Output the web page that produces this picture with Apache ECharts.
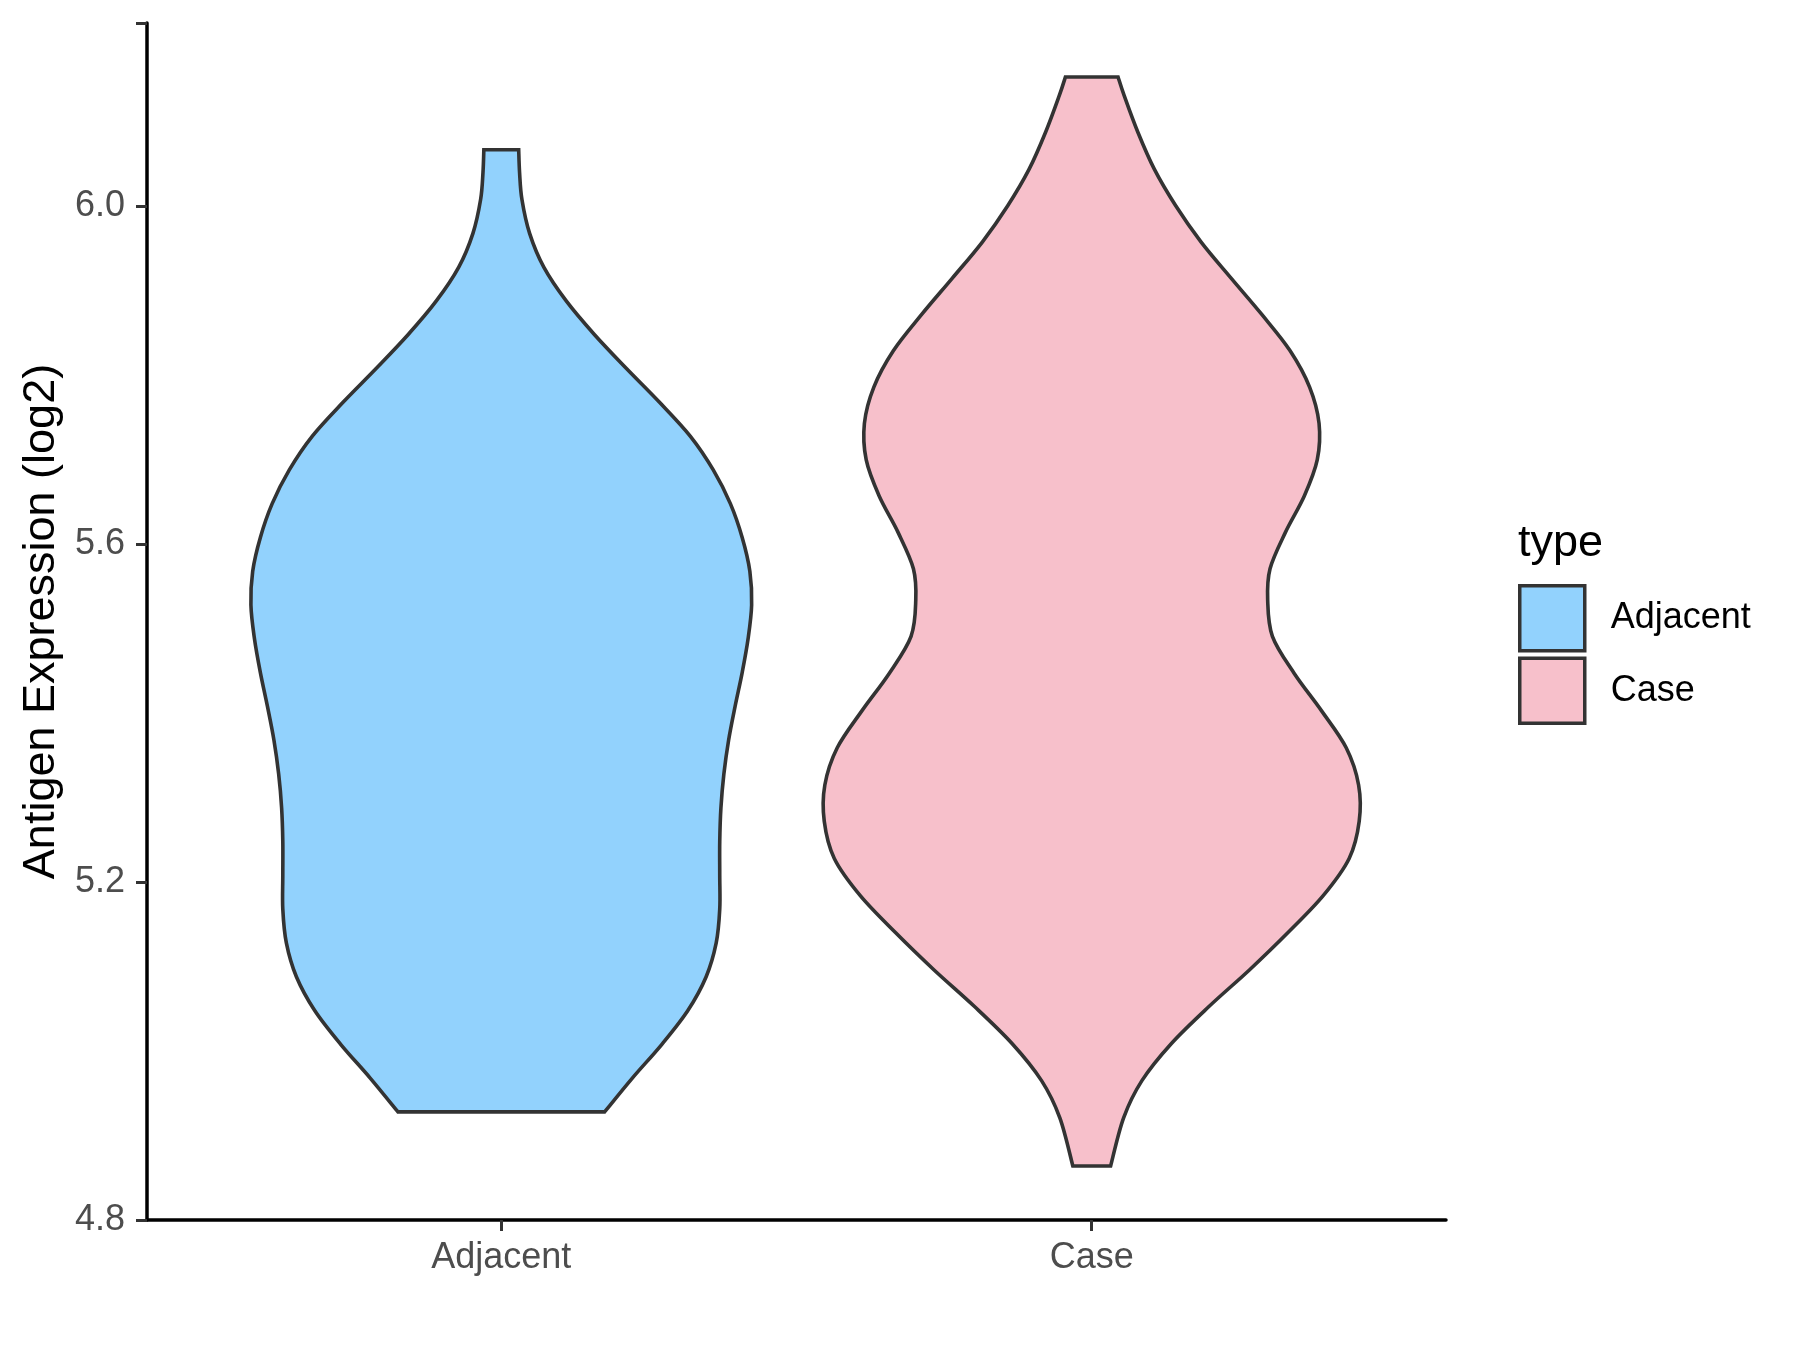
<!DOCTYPE html>
<html>
<head>
<meta charset="utf-8">
<script src="https://cdn.jsdelivr.net/npm/echarts@6/dist/echarts.min.js"></script>
<style>
html,body{margin:0;padding:0;background:#fff;}
#chart{width:1800px;height:1350px;}
</style>
</head>
<body>
<div id="chart"></div>
<script>
// Categories and y-axis ticks
const categories = ['Adjacent', 'Case'];
const yTicks = [4.8, 5.2, 5.6, 6.0];

// Violin outline: y values (log2 expression) and half-widths (in category units)
const adjY    = [4.928, 4.968, 5.008, 5.048, 5.088, 5.128, 5.168, 5.208, 5.248, 5.288, 5.328, 5.368, 5.408, 5.448, 5.488, 5.528, 5.568, 5.608, 5.648, 5.688, 5.728, 5.768, 5.808, 5.848, 5.888, 5.928, 5.968, 6.008, 6.040, 6.067];
const adjHalf = [0.175, 0.222, 0.272, 0.316, 0.347, 0.364, 0.370, 0.370, 0.370, 0.372, 0.377, 0.385, 0.396, 0.408, 0.418, 0.424, 0.421, 0.408, 0.388, 0.359, 0.320, 0.268, 0.212, 0.158, 0.110, 0.072, 0.048, 0.035, 0.031, 0.0295];

const caseY    = [4.864, 4.921, 4.965, 5.009, 5.053, 5.096, 5.140, 5.184, 5.228, 5.272, 5.315, 5.359, 5.403, 5.447, 5.491, 5.534, 5.571, 5.614, 5.657, 5.700, 5.743, 5.786, 5.829, 5.872, 5.915, 5.958, 6.001, 6.044, 6.088, 6.131, 6.153];
const caseHalf = [0.032, 0.054, 0.085, 0.135, 0.199, 0.267, 0.332, 0.392, 0.436, 0.453, 0.452, 0.431, 0.389, 0.343, 0.306, 0.298, 0.302, 0.328, 0.360, 0.382, 0.385, 0.369, 0.336, 0.288, 0.236, 0.185, 0.142, 0.106, 0.078, 0.055, 0.0446];

const fills = { Adjacent: '#92D2FD', Case: '#F7C0CB' };
const outline = '#333333';

function catmull(points) {
  let d = '';
  const n = points.length;
  for (let i = 0; i < n - 1; i++) {
    const p0 = points[i - 1] || points[i];
    const p1 = points[i];
    const p2 = points[i + 1];
    const p3 = points[i + 2] || p2;
    const c1x = p1[0] + (p2[0] - p0[0]) / 6, c1y = p1[1] + (p2[1] - p0[1]) / 6;
    const c2x = p2[0] - (p3[0] - p1[0]) / 6, c2y = p2[1] - (p3[1] - p1[1]) / 6;
    d += ' C' + c1x.toFixed(2) + ' ' + c1y.toFixed(2) + ' ' + c2x.toFixed(2) + ' ' + c2y.toFixed(2) + ' ' + p2[0].toFixed(2) + ' ' + p2[1].toFixed(2);
  }
  return d;
}

function violinRenderer(center, ys, halves, fill) {
  return function (params, api) {
    const left = ys.map((y, i) => api.coord([center - halves[i], y]));
    const right = ys.map((y, i) => api.coord([center + halves[i], y])).reverse();
    let d = 'M' + left[0][0].toFixed(2) + ' ' + left[0][1].toFixed(2);
    d += catmull(left);
    d += ' L' + right[0][0].toFixed(2) + ' ' + right[0][1].toFixed(2);
    d += catmull(right);
    d += ' Z';
    return {
      type: 'path',
      shape: { pathData: d },
      style: { fill: fill, stroke: outline, lineWidth: 3.6, lineJoin: 'miter' }
    };
  };
}

const chart = echarts.init(document.getElementById('chart'), null, { renderer: 'canvas' });
const FONT = '"Liberation Sans", Arial, sans-serif';

chart.setOption({
  animation: false,
  backgroundColor: '#ffffff',
  textStyle: { fontFamily: FONT },
  grid: { left: 147, right: 354, top: 23, bottom: 130, containLabel: false, outerBoundsMode: 'none' },
  xAxis: {
    type: 'value',
    min: 0.4,
    max: 2.6,
    splitLine: { show: false },
    axisLine: { show: true, lineStyle: { color: '#000000', width: 3.5 } },
    axisTick: { show: true, length: 11, customValues: [1, 2], lineStyle: { color: '#333333', width: 3 } },
    axisLabel: {
      customValues: [1, 2],
      margin: 20,
      fontSize: 36,
      color: '#4D4D4D',
      fontFamily: FONT,
      formatter: function (v) { return categories[Math.round(v) - 1] || ''; }
    }
  },
  yAxis: {
    type: 'value',
    min: 4.8,
    max: 6.217,
    interval: 0.4,
    name: 'Antigen Expression (log2)',
    nameLocation: 'middle',
    nameGap: 80,
    nameTextStyle: { fontSize: 45, color: '#000000', fontFamily: FONT },
    splitLine: { show: false },
    axisLine: { show: true, lineStyle: { color: '#000000', width: 3.5 } },
    axisTick: { show: true, length: 11, lineStyle: { color: '#333333', width: 3 } },
    axisLabel: {
      margin: 22,
      fontSize: 36,
      color: '#4D4D4D',
      fontFamily: FONT,
      formatter: function (v) { return yTicks.some(t => Math.abs(t - v) < 1e-6) ? v.toFixed(1) : ''; }
    }
  },
  legend: {
    orient: 'vertical',
    left: 1518,
    top: 584,
    padding: 0,
    itemWidth: 65,
    itemHeight: 65,
    itemGap: 4,
    icon: 'rect',
    selectedMode: false,
    textStyle: { fontSize: 36, color: '#000000', fontFamily: FONT, padding: [0, 0, 0, 21] },
    data: [
      { name: 'Adjacent', itemStyle: { color: fills.Adjacent, borderColor: outline, borderWidth: 3.5 } },
      { name: 'Case', itemStyle: { color: fills.Case, borderColor: outline, borderWidth: 3.5 } }
    ]
  },
  graphic: [{
    type: 'text',
    left: 1518,
    top: 521,
    style: { text: 'type', fontSize: 45, fill: '#000000', fontFamily: FONT }
  }],
  series: [
    {
      type: 'custom',
      name: 'Adjacent',
      coordinateSystem: 'cartesian2d',
      itemStyle: { color: fills.Adjacent, borderColor: outline },
      data: [[1, adjY[0]]],
      silent: true,
      renderItem: violinRenderer(1, adjY, adjHalf, fills.Adjacent)
    },
    {
      type: 'custom',
      name: 'Case',
      coordinateSystem: 'cartesian2d',
      itemStyle: { color: fills.Case, borderColor: outline },
      data: [[2, caseY[0]]],
      silent: true,
      renderItem: violinRenderer(2, caseY, caseHalf, fills.Case)
    }
  ]
});
</script>
</body>
</html>
